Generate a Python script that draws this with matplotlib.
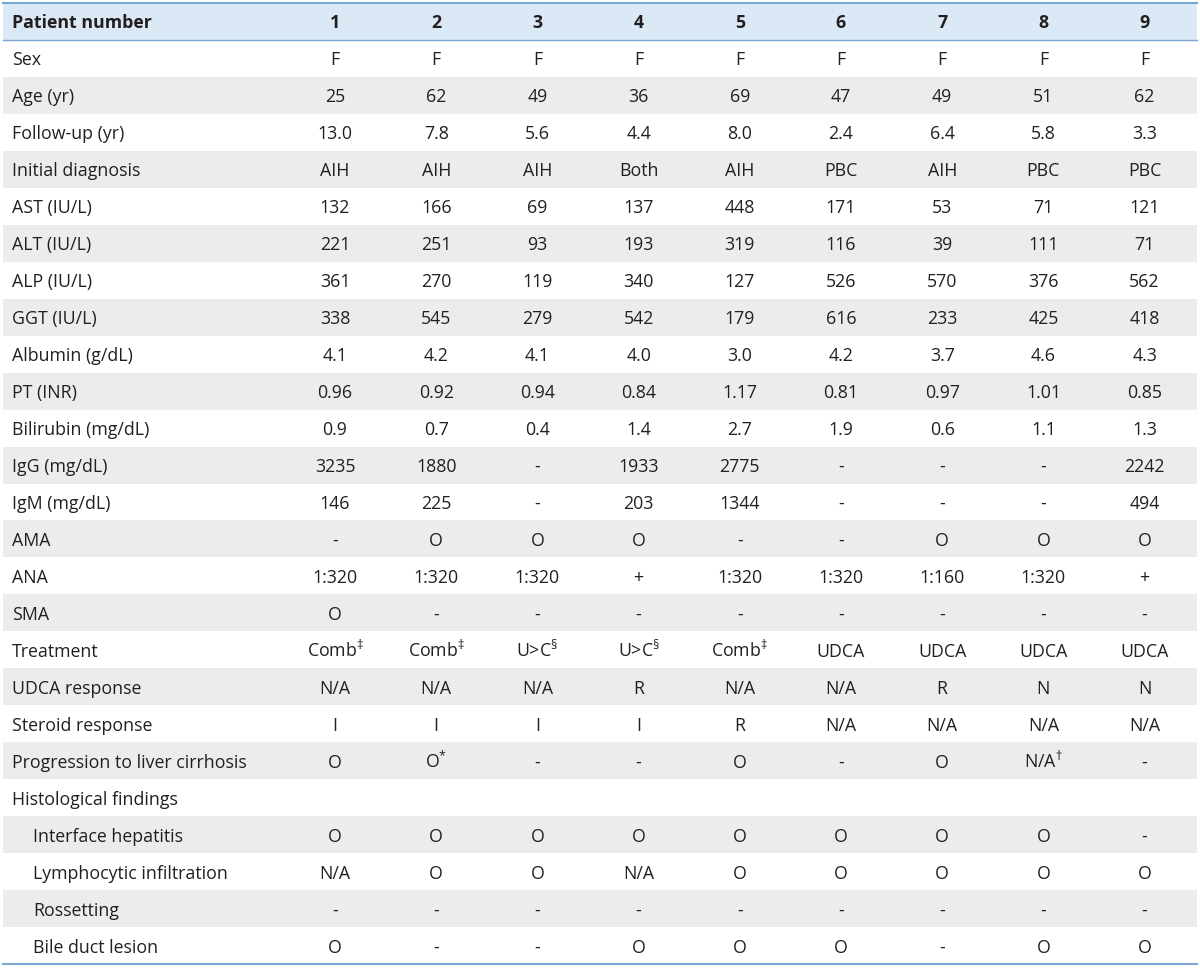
import matplotlib.pyplot as plt
from matplotlib.patches import Rectangle

plt.rcParams['font.family'] = ['Open Sans', 'DejaVu Sans']
plt.rcParams['mathtext.fontset'] = 'custom'
plt.rcParams['mathtext.rm'] = 'Open Sans'

header = "Patient number"
patients = ["1", "2", "3", "4", "5", "6", "7", "8", "9"]

row_labels = ["Sex", "Age (yr)", "Follow-up (yr)", "Initial diagnosis", "AST (IU/L)",
              "ALT (IU/L)", "ALP (IU/L)", "GGT (IU/L)", "Albumin (g/dL)", "PT (INR)",
              "Bilirubin (mg/dL)", "IgG (mg/dL)", "IgM (mg/dL)", "AMA", "ANA", "SMA",
              "Treatment", "UDCA response", "Steroid response",
              "Progression to liver cirrhosis", "Histological findings",
              "Interface hepatitis", "Lymphocytic infiltration", "Rossetting",
              "Bile duct lesion"]
indented = [False] * 21 + [True] * 4

sex = ["F"] * 9
age = ["25", "62", "49", "36", "69", "47", "49", "51", "62"]
follow_up = ["13.0", "7.8", "5.6", "4.4", "8.0", "2.4", "6.4", "5.8", "3.3"]
diagnosis = ["AIH", "AIH", "AIH", "Both", "AIH", "PBC", "AIH", "PBC", "PBC"]
ast = ["132", "166", "69", "137", "448", "171", "53", "71", "121"]
alt = ["221", "251", "93", "193", "319", "116", "39", "111", "71"]
alp = ["361", "270", "119", "340", "127", "526", "570", "376", "562"]
ggt = ["338", "545", "279", "542", "179", "616", "233", "425", "418"]
albumin = ["4.1", "4.2", "4.1", "4.0", "3.0", "4.2", "3.7", "4.6", "4.3"]
pt_inr = ["0.96", "0.92", "0.94", "0.84", "1.17", "0.81", "0.97", "1.01", "0.85"]
bilirubin = ["0.9", "0.7", "0.4", "1.4", "2.7", "1.9", "0.6", "1.1", "1.3"]
igg = ["3235", "1880", "-", "1933", "2775", "-", "-", "-", "2242"]
igm = ["146", "225", "-", "203", "1344", "-", "-", "-", "494"]
ama = ["-", "O", "O", "O", "-", "-", "O", "O", "O"]
ana = ["1:320", "1:320", "1:320", "+", "1:320", "1:320", "1:160", "1:320", "+"]
sma = ["O", "-", "-", "-", "-", "-", "-", "-", "-"]
treatment = [r"Comb$^{\ddag}$", r"Comb$^{\ddag}$", r"U>C$^{\S}$", r"U>C$^{\S}$",
             r"Comb$^{\ddag}$", "UDCA", "UDCA", "UDCA", "UDCA"]
udca_resp = ["N/A", "N/A", "N/A", "R", "N/A", "N/A", "R", "N", "N"]
steroid_resp = ["I", "I", "I", "I", "R", "N/A", "N/A", "N/A", "N/A"]
cirrhosis = ["O", r"O$^{*}$", "-", "-", "O", "-", "O", r"N/A$^{\dag}$", "-"]
histo = [""] * 9
interface = ["O", "O", "O", "O", "O", "O", "O", "O", "-"]
lymph = ["N/A", "O", "O", "N/A", "O", "O", "O", "O", "O"]
rossetting = ["-"] * 9
bile_duct = ["O", "-", "-", "O", "O", "O", "-", "O", "O"]

values = [sex, age, follow_up, diagnosis, ast, alt, alp, ggt, albumin, pt_inr,
          bilirubin, igg, igm, ama, ana, sma, treatment, udca_resp, steroid_resp,
          cirrhosis, histo, interface, lymph, rossetting, bile_duct]

txt = '#231f20'
blue_line = '#7aa6d2'
head_fill = '#dbe8f5'
gray_fill = '#ebeced'

W, H = 1200, 970
fig = plt.figure(figsize=(12, 9.7), dpi=100)
ax = fig.add_axes([0, 0, 1, 1])
ax.set_xlim(0, W)
ax.set_ylim(H, 0)
ax.axis('off')

x0, x1 = 3, 1197
top = 4
head_h = 37
bottom = 965
row_h = (bottom - top - head_h) / len(row_labels)
col_x = [335 + i * 101.2 for i in range(len(patients))]
fs = 12.8
base_off = 6  # baseline below row centre

ax.add_patch(Rectangle((x0, top), x1 - x0, head_h, color=head_fill, lw=0))
hy = top + head_h / 2 + base_off
ax.text(12, hy, header, fontsize=fs, fontweight='bold',
        color=txt, va='baseline', ha='left')
for x, p in zip(col_x, patients):
    ax.text(x, hy, p, fontsize=fs, fontweight='bold',
            color=txt, va='baseline', ha='center')

y = top + head_h
for i, (lab, vals) in enumerate(zip(row_labels, values)):
    if i % 2 == 1:
        ax.add_patch(Rectangle((x0, y), x1 - x0, row_h, color=gray_fill, lw=0))
    by = y + row_h / 2 + base_off
    ax.text(33 if indented[i] else 12, by, lab, fontsize=fs, color=txt,
            va='baseline', ha='left')
    for x, v in zip(col_x, vals):
        ax.text(x, by, v, fontsize=fs, color=txt, va='baseline', ha='center')
    y += row_h

ax.plot([x0, x1], [top, top], color=blue_line, lw=1.5)
ax.plot([x0, x1], [top + head_h, top + head_h], color=blue_line, lw=1.0)
ax.plot([x0, x1], [y, y], color=blue_line, lw=1.5)

fig.savefig('out.png', dpi=100)
